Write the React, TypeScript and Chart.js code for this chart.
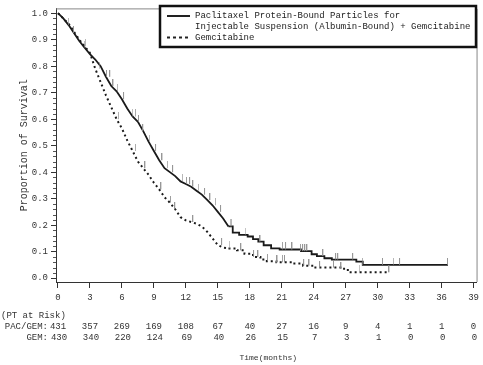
import React, { useEffect, useRef } from 'react';
import { Chart, registerables } from 'chart.js';

Chart.register(...registerables);

// Kaplan-Meier data (time in months, proportion surviving)
const pacTimes = [0, 0.5, 1.0, 1.5, 2.0, 2.5, 3.0, 3.5, 4.0, 4.5, 5.0, 5.5, 6.0, 6.5, 7.0, 7.5, 8.0, 8.5, 9.0, 9.5, 10.0, 10.5, 11.0, 11.5, 12.0, 12.5, 13.0, 13.5, 14.0, 14.5, 15.0, 15.5, 16.0, 16.4, 17.0, 17.8, 18.3, 18.8, 19.3, 20.0, 20.8, 22.8, 23.8, 24.3, 25.0, 25.7, 28.0, 28.6, 36.6];
const pacSurv = [1.0, 0.98, 0.955, 0.925, 0.895, 0.87, 0.845, 0.825, 0.8, 0.76, 0.725, 0.705, 0.675, 0.64, 0.61, 0.59, 0.555, 0.515, 0.48, 0.445, 0.415, 0.4, 0.385, 0.365, 0.355, 0.345, 0.33, 0.315, 0.295, 0.275, 0.25, 0.225, 0.195, 0.172, 0.163, 0.157, 0.147, 0.138, 0.124, 0.112, 0.108, 0.102, 0.09, 0.083, 0.075, 0.07, 0.062, 0.05, 0.05];

const gemTimes = [0, 0.5, 1.0, 1.5, 2.0, 2.5, 3.0, 3.5, 4.0, 4.5, 5.0, 5.5, 6.0, 6.5, 7.0, 7.5, 8.0, 8.5, 9.0, 9.5, 10.0, 10.5, 11.0, 11.5, 12.0, 12.5, 13.0, 13.5, 14.0, 14.5, 15.0, 15.5, 16.0, 16.8, 17.5, 18.3, 19.0, 19.6, 20.5, 22.0, 23.0, 24.0, 26.6, 27.2, 31.1];
const gemSurv = [1.0, 0.98, 0.96, 0.93, 0.9, 0.875, 0.85, 0.79, 0.74, 0.69, 0.645, 0.6, 0.565, 0.52, 0.48, 0.44, 0.415, 0.39, 0.36, 0.335, 0.305, 0.285, 0.26, 0.23, 0.218, 0.212, 0.205, 0.195, 0.175, 0.15, 0.125, 0.115, 0.112, 0.105, 0.092, 0.08, 0.07, 0.064, 0.06, 0.055, 0.047, 0.04, 0.035, 0.022, 0.022];

// Censoring times (months)
const pacCensor = [1.0, 1.5, 2.5, 4.6, 4.9, 5.2, 5.6, 6.2, 7.0, 7.3, 7.6, 8.0, 8.6, 9.2, 9.8, 10.3, 10.8, 11.7, 12.1, 12.4, 12.7, 13.2, 13.8, 14.3, 14.8, 15.3, 16.2, 16.3, 17.6, 19.0, 21.1, 21.4, 22.0, 22.8, 23.0, 23.2, 23.4, 24.9, 26.1, 26.3, 27.7, 28.6, 30.5, 31.5, 32.1, 36.6];
const gemCensor = [2.6, 3.9, 5.7, 7.3, 8.2, 9.7, 10.6, 11.0, 12.7, 15.4, 16.1, 17.2, 18.4, 18.8, 19.7, 20.6, 21.1, 21.3, 23.1, 23.6, 24.6, 25.9, 26.6, 28.3, 31.1];

// Dense-event period drawn as a continuous trace; steps drawn after it
const denseUntil = 16;

const xTickValues = [0, 3, 6, 9, 12, 15, 18, 21, 24, 27, 30, 33, 36, 39];
const yTickValues = [0, 0.1, 0.2, 0.3, 0.4, 0.5, 0.6, 0.7, 0.8, 0.9, 1.0];
const pacAtRisk = [431, 357, 269, 169, 108, 67, 40, 27, 16, 9, 4, 1, 1, 0];
const gemAtRisk = [430, 340, 220, 124, 69, 40, 26, 15, 7, 3, 1, 0, 0, 0];

const legendLines = [
  'Paclitaxel Protein-Bound Particles for',
  'Injectable Suspension (Albumin-Bound) + Gemcitabine',
  'Gemcitabine',
];
const atRiskTitle = '(PT at Risk)';
const rowLabels = ['PAC/GEM:', 'GEM:'];
const xTitle = 'Time(months)';
const yTitle = 'Proportion of Survival';

const MONO = '"Liberation Mono", "DejaVu Sans Mono", monospace';

function stepValue(times: number[], surv: number[], t: number) {
  let v = surv[0];
  for (let i = 0; i < times.length; i++) {
    if (times[i] <= t) v = surv[i];
  }
  return v;
}

function makeCensorImage() {
  const c = document.createElement('canvas');
  c.width = 2;
  c.height = 14;
  const g = c.getContext('2d')!;
  g.fillStyle = 'rgba(140,140,140,0.9)';
  g.fillRect(0, 0, 1, 7);
  return c;
}

const decorPlugin = {
  id: 'decor',
  afterDraw(chart: any) {
    const { ctx, chartArea } = chart;
    const xs = chart.scales.x;
    const ys = chart.scales.y;
    ctx.save();
    // frame top and right
    ctx.strokeStyle = '#888';
    ctx.lineWidth = 1;
    ctx.beginPath();
    ctx.moveTo(chartArea.left, chartArea.top + 0.5);
    ctx.lineTo(chartArea.right + 0.5, chartArea.top + 0.5);
    ctx.lineTo(chartArea.right + 0.5, chartArea.bottom);
    ctx.stroke();
    // y minor ticks
    ctx.strokeStyle = '#555';
    ctx.beginPath();
    for (let k = 0; k <= 50; k++) {
      if (k % 5 === 0) continue;
      const y = Math.round(ys.getPixelForValue(k / 50)) + 0.5;
      ctx.moveTo(chartArea.left - 3, y);
      ctx.lineTo(chartArea.left, y);
    }
    ctx.stroke();

    // legend
    const bx = 160, by = 6, bw = 316, bh = 41;
    ctx.strokeStyle = '#111';
    ctx.lineWidth = 2.5;
    ctx.fillStyle = '#fff';
    ctx.fillRect(bx, by, bw, bh);
    ctx.strokeRect(bx, by, bw, bh);
    ctx.lineWidth = 2;
    ctx.strokeStyle = '#222';
    ctx.beginPath();
    ctx.moveTo(167, 16);
    ctx.lineTo(190, 16);
    ctx.stroke();
    ctx.setLineDash([3, 3]);
    ctx.beginPath();
    ctx.moveTo(167, 37.5);
    ctx.lineTo(191, 37.5);
    ctx.stroke();
    ctx.setLineDash([]);
    ctx.fillStyle = '#222';
    ctx.font = '9px ' + MONO;
    ctx.textBaseline = 'middle';
    ctx.textAlign = 'left';
    ctx.fillText(legendLines[0], 195, 16);
    ctx.fillText(legendLines[1], 195, 27);
    ctx.fillText(legendLines[2], 195, 37.5);

    // at risk table
    ctx.fillStyle = '#333';
    ctx.font = '9px ' + MONO;
    ctx.textAlign = 'left';
    ctx.fillText(atRiskTitle, 1, 316);
    ctx.textAlign = 'right';
    ctx.fillText(rowLabels[0], 48, 327);
    ctx.fillText(rowLabels[1], 48, 338);
    ctx.textAlign = 'center';
    xTickValues.forEach((v, i) => {
      const x = xs.getPixelForValue(v);
      ctx.fillText(String(pacAtRisk[i]), x, 327);
      ctx.fillText(String(gemAtRisk[i]), x + 1, 338);
    });

    // axis titles
    ctx.font = '8px ' + MONO;
    ctx.fillText(xTitle, (chartArea.left + chartArea.right) / 2 + 2, 358);
    ctx.font = '10px ' + MONO;
    ctx.translate(24, (chartArea.top + chartArea.bottom) / 2);
    ctx.rotate(-Math.PI / 2);
    ctx.fillText(yTitle, 0, 0);
    ctx.restore();
  },
};

function toPoints(times: number[], surv: number[], from: number, to: number) {
  const pts: { x: number; y: number }[] = [];
  times.forEach((t, i) => {
    if (t >= from && t <= to) pts.push({ x: t, y: surv[i] });
  });
  return pts;
}

export default function App() {
  const ref = useRef<HTMLCanvasElement | null>(null);
  useEffect(() => {
    const canvas = ref.current!;
    const censorImg = makeCensorImage();
    const pacCens = pacCensor.map((t) => ({ x: t, y: stepValue(pacTimes, pacSurv, t) }));
    const gemCens = gemCensor.map((t) => ({ x: t, y: stepValue(gemTimes, gemSurv, t) }));
    const solid = { borderColor: '#1a1a1a', borderWidth: 1.8, pointRadius: 0, fill: false };
    const dotted = { borderColor: '#1a1a1a', borderWidth: 2, borderDash: [2, 3], pointRadius: 0, fill: false };
    const chart = new Chart(canvas, {
      type: 'line',
      data: {
        datasets: [
          { label: 'PAC censor', data: pacCens, showLine: false, pointStyle: censorImg as any, pointRadius: 3 },
          { label: 'GEM censor', data: gemCens, showLine: false, pointStyle: censorImg as any, pointRadius: 3 },
          { label: 'PAC/GEM early', data: toPoints(pacTimes, pacSurv, 0, denseUntil), ...solid },
          { label: 'PAC/GEM late', data: toPoints(pacTimes, pacSurv, denseUntil, 99), stepped: true, ...solid },
          { label: 'GEM early', data: toPoints(gemTimes, gemSurv, 0, denseUntil), ...dotted },
          { label: 'GEM late', data: toPoints(gemTimes, gemSurv, denseUntil, 99), stepped: true, ...dotted },
        ] as any,
      },
      options: {
        responsive: false,
        animation: false,
        layout: { padding: { left: 0, right: 2, top: 1, bottom: 0 } },
        plugins: {
          legend: { display: false },
          tooltip: { enabled: false },
        },
        scales: {
          x: {
            type: 'linear',
            min: -0.186,
            max: 39.28,
            afterFit: (s: any) => {
              s.height = 83;
            },
            afterBuildTicks: (s: any) => {
              s.ticks = xTickValues.map((v) => ({ value: v }));
            },
            ticks: {
              autoSkip: false,
              maxRotation: 0,
              padding: 4,
              color: '#333',
              font: { family: MONO, size: 9 },
              callback: (v: any) => String(v),
            },
            grid: { drawOnChartArea: false, drawTicks: true, tickLength: 6, color: '#333' },
            border: { display: true, color: '#333', width: 1 },
          },
          y: {
            type: 'linear',
            min: -0.0147,
            max: 1.018,
            afterFit: (s: any) => {
              s.width = 56;
            },
            afterBuildTicks: (s: any) => {
              s.ticks = yTickValues.map((v) => ({ value: v }));
            },
            ticks: {
              autoSkip: false,
              padding: 3,
              color: '#333',
              font: { family: MONO, size: 9 },
              callback: (v: any) => Number(v).toFixed(1),
            },
            grid: { drawOnChartArea: false, drawTicks: true, tickLength: 5, color: '#333' },
            border: { display: true, color: '#333', width: 1 },
          },
        },
      },
      plugins: [decorPlugin],
    });
    return () => chart.destroy();
  }, []);
  return (
    <div style={{ position: 'absolute', left: 0, top: 0, width: 483, height: 365, background: '#fff' }}>
      <canvas ref={ref} width={483} height={365} />
    </div>
  );
}
